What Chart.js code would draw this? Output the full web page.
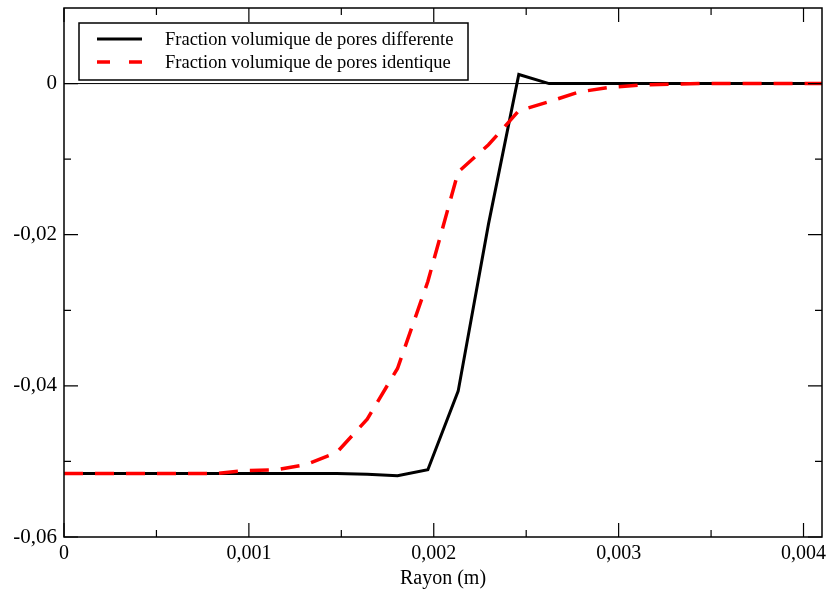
<!DOCTYPE html>
<html>
<head>
<meta charset="utf-8">
<script src="https://cdn.jsdelivr.net/npm/chart.js@4.4.0/dist/chart.umd.min.js"></script>
<style>
  html, body { margin: 0; padding: 0; background: #fff; }
</style>
</head>
<body>
<canvas id="chart" width="830" height="591"></canvas>
<script>
// rayon (m)
const radius = [0, 0.000164, 0.000328, 0.000492, 0.000656, 0.00082, 0.000984, 0.001148, 0.001312,
  0.001476, 0.00164, 0.001804, 0.001968, 0.002132, 0.002296, 0.00246, 0.002624, 0.002788,
  0.002952, 0.003116, 0.00328, 0.003444, 0.003608, 0.003772, 0.003936, 0.0041];

const poresDifferente = [-0.0516, -0.0516, -0.0516, -0.0516, -0.0516, -0.0516, -0.0516, -0.0516, -0.0516,
  -0.0516, -0.0517, -0.0519, -0.0511, -0.0407, -0.0186, 0.0012, 0, 0,
  0, 0, 0, 0, 0, 0, 0, 0];

const poresIdentique = [-0.0516, -0.0516, -0.0516, -0.0516, -0.0516, -0.0516, -0.0512, -0.0511, -0.0504,
  -0.0488, -0.0444, -0.0377, -0.0262, -0.0117, -0.0081, -0.0036, -0.0024, -0.0011,
  -0.0005, -0.0002, -0.0001, 0, 0, 0, 0, 0];

const seriesNames = ['Fraction volumique de pores differente', 'Fraction volumique de pores identique'];

const xTicks = [0, 0.001, 0.002, 0.003, 0.004];
const xTickLabels = ['0', '0,001', '0,002', '0,003', '0,004'];
const xMinor = [0.0005, 0.0015, 0.0025, 0.0035];
const yTicks = [-0.06, -0.04, -0.02, 0];
const yTickLabels = ['-0,06', '-0,04', '-0,02', '0'];
const yMinor = [-0.05, -0.03, -0.01];

const FONT = "'Liberation Serif', 'DejaVu Serif', serif";

function toPoints(vals) {
  return radius.map((x, i) => ({ x: x, y: vals[i] }));
}

// zero line, frame, inward ticks (xmgrace style) and boxed legend
const framePlugin = {
  id: 'frame',
  beforeDatasetsDraw(chart) {
    const { ctx, chartArea: a, scales } = chart;
    const y0 = scales.y.getPixelForValue(0);
    ctx.save();
    ctx.strokeStyle = '#000';
    ctx.lineWidth = 1;
    ctx.beginPath();
    ctx.moveTo(a.left, y0);
    ctx.lineTo(a.right, y0);
    ctx.stroke();
    ctx.restore();
  },
  afterDatasetsDraw(chart) {
    const { ctx, chartArea: a, scales } = chart;
    ctx.save();
    ctx.strokeStyle = '#000';
    ctx.lineWidth = 1.5;
    ctx.strokeRect(a.left, a.top, a.right - a.left, a.bottom - a.top);

    ctx.lineWidth = 1.2;
    ctx.beginPath();
    const xt = (v, len) => {
      const px = scales.x.getPixelForValue(v);
      ctx.moveTo(px, a.bottom); ctx.lineTo(px, a.bottom - len);
      ctx.moveTo(px, a.top); ctx.lineTo(px, a.top + len);
    };
    const yt = (v, len) => {
      const py = scales.y.getPixelForValue(v);
      ctx.moveTo(a.left, py); ctx.lineTo(a.left + len, py);
      ctx.moveTo(a.right, py); ctx.lineTo(a.right - len, py);
    };
    xTicks.forEach(v => xt(v, 14));
    xMinor.forEach(v => xt(v, 7));
    yTicks.forEach(v => yt(v, 14));
    yMinor.forEach(v => yt(v, 7));
    ctx.stroke();
    ctx.restore();
  },
  afterDraw(chart) {
    const ctx = chart.ctx;
    const ds = chart.data.datasets;
    ctx.save();
    ctx.fillStyle = '#fff';
    ctx.fillRect(79, 23, 389, 57);
    ctx.strokeStyle = '#000';
    ctx.lineWidth = 1.5;
    ctx.strokeRect(79, 23, 389, 57);

    const rows = [39, 62];
    ds.forEach((d, i) => {
      ctx.beginPath();
      ctx.strokeStyle = d.borderColor;
      ctx.lineWidth = d.borderWidth;
      ctx.setLineDash(d.borderDash && d.borderDash.length ? [13, 19] : []);
      ctx.moveTo(97, rows[i]);
      ctx.lineTo(142, rows[i]);
      ctx.stroke();
      ctx.setLineDash([]);
      ctx.fillStyle = '#000';
      ctx.font = '18.5px ' + FONT;
      ctx.textBaseline = 'middle';
      ctx.textAlign = 'left';
      ctx.fillText(d.label, 165, rows[i] + 1);
    });
    ctx.restore();
  }
};

new Chart(document.getElementById('chart'), {
  type: 'line',
  data: {
    datasets: [
      {
        label: seriesNames[0],
        data: toPoints(poresDifferente),
        borderColor: '#000',
        borderWidth: 3,
        pointRadius: 0,
        tension: 0,
        order: 2
      },
      {
        label: seriesNames[1],
        data: toPoints(poresIdentique),
        borderColor: '#ff0000',
        borderWidth: 3.5,
        borderDash: [19, 12],
        borderCapStyle: 'butt',
        pointRadius: 0,
        tension: 0,
        order: 1
      }
    ]
  },
  options: {
    responsive: false,
    animation: false,
    devicePixelRatio: 1,
    layout: { padding: { top: 8, right: 8, left: 0, bottom: 0 } },
    plugins: {
      legend: { display: false },
      tooltip: { enabled: false }
    },
    scales: {
      x: {
        type: 'linear',
        min: 0,
        max: 0.0041,
        afterBuildTicks: s => { s.ticks = xTicks.map(v => ({ value: v })); },
        afterFit: s => { s.height = 54; s.paddingLeft = 0; s.paddingRight = 0; },
        grid: { display: false, drawTicks: false },
        border: { display: false },
        ticks: {
          callback: (v, i) => xTickLabels[i],
          font: { family: FONT, size: 20 },
          color: '#000',
          padding: 5,
          maxRotation: 0,
          autoSkip: false
        },
        title: {
          display: true,
          text: 'Rayon (m)',
          font: { family: FONT, size: 20 },
          color: '#000',
          padding: { top: 0, bottom: 0 }
        }
      },
      y: {
        type: 'linear',
        min: -0.06,
        max: 0.01,
        afterBuildTicks: s => { s.ticks = yTicks.map(v => ({ value: v })); },
        afterFit: s => { s.width = 64; s.paddingTop = 0; s.paddingBottom = 0; },
        grid: { display: false, drawTicks: false },
        border: { display: false },
        ticks: {
          callback: (v, i) => yTickLabels[i],
          font: { family: FONT, size: 21 },
          color: '#000',
          padding: 7
        }
      }
    }
  },
  plugins: [framePlugin]
});
</script>
</body>
</html>
